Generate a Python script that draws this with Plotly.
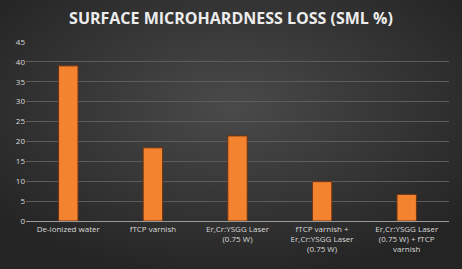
import base64
import plotly.graph_objects as go

categories = [
    "De-ionized water",
    "fTCP varnish",
    "Er,Cr:YSGG Laser<br>(0.75 W)",
    "fTCP varnish +<br>Er,Cr:YSGG Laser<br>(0.75 W)",
    "Er,Cr:YSGG Laser<br>(0.75 W) + fTCP<br>varnish",
]
sml_values = [39.0, 18.4, 21.4, 9.9, 6.7]
y_ticks = [0, 5, 10, 15, 20, 25, 30, 35, 40, 45]

svg = (
    '<svg xmlns="http://www.w3.org/2000/svg" width="462" height="269">'
    '<defs><radialGradient id="g" cx="50%" cy="40%" r="65%">'
    '<stop offset="0%" stop-color="#4a4a4a"/>'
    '<stop offset="100%" stop-color="#242424"/>'
    '</radialGradient></defs>'
    '<rect width="462" height="269" fill="url(#g)"/></svg>'
)
bg_uri = "data:image/svg+xml;base64," + base64.b64encode(svg.encode()).decode()

fig = go.Figure(go.Bar(
    x=categories, y=sml_values,
    marker=dict(color="#F4832F", line=dict(color="#6b3212", width=1)),
    width=0.23,
))

fig.update_layout(
    width=462, height=269,
    margin=dict(l=26, r=13, t=42, b=48),
    paper_bgcolor="#363636", plot_bgcolor="rgba(0,0,0,0)",
    images=[dict(source=bg_uri, xref="paper", yref="paper", x=-26/423, y=1 + 42/179,
                 sizex=462/423, sizey=269/179, xanchor="left", yanchor="top",
                 sizing="stretch", layer="below")],
    title=dict(text="<b>SURFACE MICROHARDNESS LOSS (SML %)</b>", x=0.5, xanchor="center",
               y=0.93, yanchor="middle",
               font=dict(family="Open Sans", size=16, color="#EDEDED")),
    font=dict(family="Open Sans", size=8, color="#D9D9D9"),
    showlegend=False,
)
fig.update_yaxes(range=[0, 45], tickvals=y_ticks, showgrid=True, gridcolor="#5c5c5c",
                 gridwidth=1, zeroline=False, showline=False, ticks="",
                 tickfont=dict(size=8, color="#D9D9D9"))
fig.update_xaxes(showline=True, linecolor="#9a9a9a", linewidth=1, ticks="",
                 tickfont=dict(size=8, color="#D9D9D9"), tickangle=0)

fig.write_html("out.html", config={"displayModeBar": False},
               post_script="document.body.style.margin='0';")
